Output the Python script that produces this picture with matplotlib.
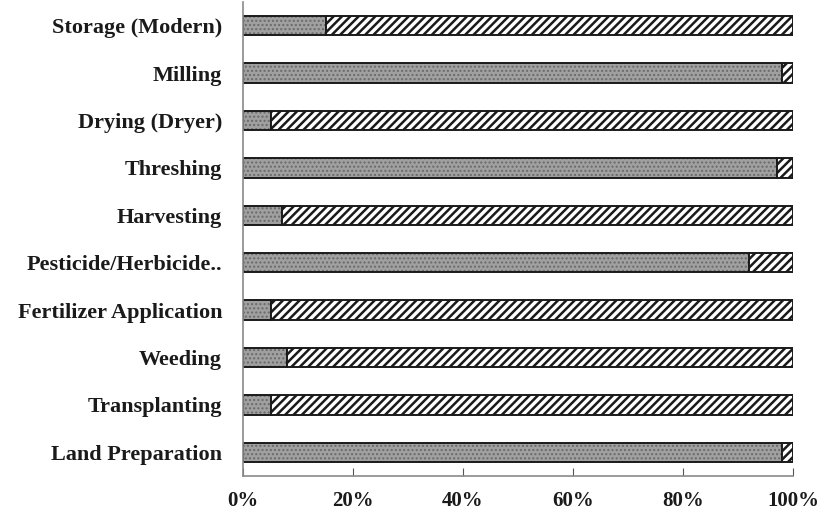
import matplotlib.pyplot as plt
import numpy as np

categories = ["Land Preparation", "Transplanting", "Weeding",
              "Fertilizer Application", "Pesticide/Herbicide..", "Harvesting",
              "Threshing", "Drying (Dryer)", "Milling", "Storage (Modern)"]
first_share = [98, 5, 8, 5, 92, 7, 97, 5, 98, 15]
second_share = [2, 95, 92, 95, 8, 93, 3, 95, 2, 85]
xticks = [0, 20, 40, 60, 80, 100]

FONT = "Liberation Serif"


def main():
    fig = plt.figure(figsize=(8.24, 5.12), dpi=100)
    ax = fig.add_axes([243 / 824, 36 / 512, 550 / 824, 474 / 512])

    y = np.arange(len(categories))
    first = np.array(first_share)
    second = np.array(second_share)
    h = 0.41

    # Gray dotted segment
    plt.rcParams["hatch.linewidth"] = 1.0
    ax.barh(y, first, height=h, color="#a0a0a0", edgecolor="#6a6a6a",
            hatch="....", linewidth=0)
    ax.barh(y, first, height=h, fill=False, edgecolor="#1a1a1a", linewidth=1.4)

    # White striped segment
    plt.rcParams["hatch.linewidth"] = 1.8
    ax.barh(y, second, left=first, height=h, color="white", edgecolor="#1a1a1a",
            hatch="////", linewidth=0)
    ax.barh(y, second, left=first, height=h, fill=False, edgecolor="#1a1a1a",
            linewidth=1.4)

    ax.set_xlim(0, 100)
    ax.set_ylim(-0.5, len(categories) - 0.5)
    ax.set_yticks(y)
    ax.set_yticklabels(categories, fontname=FONT, fontweight="bold", fontsize=16,
                       color="#1a1a1a")
    ax.set_xticks(xticks)
    ax.set_xticklabels([f"{v}%" for v in xticks], fontname=FONT,
                       fontweight="bold", fontsize=15, color="#1a1a1a")
    ax.tick_params(axis="y", length=0, pad=15)
    ax.tick_params(axis="x", direction="in", length=6, color="#555555", pad=11)

    for side in ["top", "right"]:
        ax.spines[side].set_visible(False)
    for side in ["left", "bottom"]:
        ax.spines[side].set_color("#8a8a8a")
        ax.spines[side].set_linewidth(1.2)

    fig.savefig("out.png", dpi=100)


if __name__ == "__main__":
    main()
